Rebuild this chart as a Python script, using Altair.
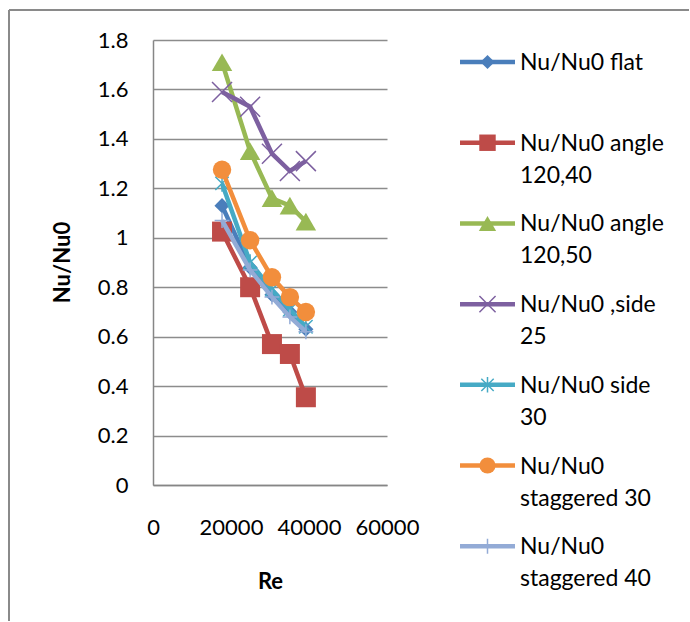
import altair as alt
import pandas as pd

# ---- data ----
re_vals = [17700, 24900, 30500, 35100, 39200]
series_names = ["Nu/Nu0 flat", "Nu/Nu0 angle 120,40", "Nu/Nu0 angle 120,50",
                "Nu/Nu0 ,side 25", "Nu/Nu0 side 30", "Nu/Nu0 staggered 30",
                "Nu/Nu0 staggered 40"]
legend_labels = ["Nu/Nu0 flat", "Nu/Nu0 angle\n120,40", "Nu/Nu0 angle\n120,50",
                 "Nu/Nu0 ,side\n25", "Nu/Nu0 side\n30", "Nu/Nu0\nstaggered 30",
                 "Nu/Nu0\nstaggered 40"]
flat = [1.13, 0.88, 0.77, 0.70, 0.63]
angle_120_40 = [1.025, 0.80, 0.57, 0.53, 0.355]
angle_120_50 = [1.71, 1.35, 1.16, 1.13, 1.065]
side_25 = [1.59, 1.53, 1.34, 1.27, 1.31]
side_30 = [1.22, 0.90, 0.79, 0.71, 0.64]
staggered_30 = [1.275, 0.99, 0.84, 0.76, 0.70]
staggered_40 = [1.07, 0.87, 0.76, 0.68, 0.62]
x_ticks = [0, 20000, 40000, 60000]
y_ticks = [0, 0.2, 0.4, 0.6, 0.8, 1, 1.2, 1.4, 1.6, 1.8]

series_values = [flat, angle_120_40, angle_120_50, side_25, side_30,
                 staggered_30, staggered_40]

# ---- styles ----
colors = ["#4A7EBB", "#BE4B48", "#98B954", "#7D60A0", "#46AAC5", "#F28E3C", "#93ABD6"]
X_PATH = "M-1,-1L1,1M-1,1L1,-1"
AST_PATH = "M-0.8,-0.8L0.8,0.8M-0.8,0.8L0.8,-0.8M0,-1L0,1"
PLUS_PATH = "M0,-1L0,1M-1,0L1,0"
markers = [  # shape, filled, size in plot, size in legend
    ("diamond", True, 230, 200),
    ("square", True, 400, 270),
    ("triangle-up", True, 420, 300),
    (X_PATH, False, 400, 260),
    (AST_PATH, False, 280, 240),
    ("circle", True, 340, 260),
    (PLUS_PATH, False, 220, 220),
]
FONT = "Lato"
FS = 22

rows = []
for name, vals in zip(series_names, series_values):
    for r, v in zip(re_vals, vals):
        rows.append({"series": name, "Re": r, "value": v})
df = pd.DataFrame(rows)

x_enc = alt.X(
    "Re:Q",
    scale=alt.Scale(domain=[0, 60000], nice=False),
    axis=alt.Axis(
        values=x_ticks, format="d", grid=False, ticks=False, tickSize=0,
        domainColor="#868686", domainWidth=1.5,
        labelFont=FONT, labelFontSize=FS, labelColor="#000000",
        labelPadding=32, labelOverlap=False, labelFlush=False,
        title="Re", titleFont=FONT, titleFontSize=FS, titleFontWeight="bold",
        titleColor="#000000", titleBaseline="alphabetic", titleY=103,
    ),
)
y_enc = alt.Y(
    "value:Q",
    scale=alt.Scale(domain=[0, 1.8], nice=False, zero=True),
    axis=alt.Axis(
        values=y_ticks, format="~g", grid=True, gridColor="#8C8C8C", gridWidth=1.3,
        ticks=False, tickSize=0, domainColor="#868686", domainWidth=1.5,
        labelFont=FONT, labelFontSize=FS, labelColor="#000000", labelPadding=25,
        labelOverlap=False,
        title="Nu/Nu0", titleFont=FONT, titleFontSize=FS, titleFontWeight="bold",
        titleColor="#000000", titleAngle=270, titleBaseline="alphabetic",
        titleAlign="center", titleX=-84, titleY=222,
    ),
)

base = alt.Chart(df)
layers = []
for i, name in enumerate(series_names):
    shape, filled, size, _ = markers[i]
    sub = base.transform_filter(alt.datum.series == name)
    layers.append(
        sub.mark_line(color=colors[i], strokeWidth=4.5).encode(x=x_enc, y=y_enc)
    )
    if filled:
        pm = sub.mark_point(shape=shape, filled=True, size=size, color=colors[i],
                            opacity=1, strokeWidth=1)
    else:
        pm = sub.mark_point(shape=shape, filled=False, size=size, color=colors[i],
                            opacity=1, strokeWidth=1.5)
    layers.append(pm.encode(x=x_enc, y=y_enc))

frame_src = alt.Chart(alt.Data(values=[{"f": 1}]))
frame_left = frame_src.mark_rule(color="#8A8A8A", strokeWidth=2).encode(
    x=alt.value(-144), y=alt.value(-30), y2=alt.value(581))
frame_top = frame_src.mark_rule(color="#8A8A8A", strokeWidth=2).encode(
    x=alt.value(-144), x2=alt.value(536), y=alt.value(-30))

plot = alt.layer(*layers, frame_left, frame_top).properties(
    width=234, height=445, view=alt.ViewBackground(stroke=None))

# ---- legend drawn as its own small chart ----
leg_df = pd.DataFrame({"idx": list(range(len(series_names))),
                       "series": series_names, "label": legend_labels})
leg_y = alt.Y("idx:Q", scale=alt.Scale(domain=[-0.273, 6.418], reverse=True), axis=None)
leg_base = alt.Chart(leg_df)
leg_layers = []
for i, name in enumerate(series_names):
    shape, filled, _, lsize = markers[i]
    sub = leg_base.transform_filter(alt.datum.series == name)
    leg_layers.append(sub.mark_rule(color=colors[i], strokeWidth=4.5).encode(
        x=alt.value(5), x2=alt.value(60), y=leg_y))
    leg_layers.append(sub.mark_point(shape=shape, filled=filled, size=lsize,
                                     color=colors[i], opacity=1,
                                     strokeWidth=1 if filled else 1.5).encode(
        x=alt.value(32.5), y=leg_y))
leg_layers.append(leg_base.mark_text(align="left", baseline="alphabetic", dy=8,
                                     lineBreak="\n", lineHeight=32, fontSize=23,
                                     font=FONT, color="#000000").encode(
    x=alt.value(65), y=leg_y, text="label:N"))
legend = alt.layer(*leg_layers).properties(
    width=230, height=540, view=alt.ViewBackground(stroke=None))

chart = alt.hconcat(plot, legend, spacing=68, bounds="flush").properties(
    padding={"left": 8, "top": 9, "right": 0, "bottom": 0}
).configure_view(stroke=None, strokeWidth=0).configure(background="#FFFFFF")

chart.save("out.html", embed_options={"renderer": "svg", "actions": False})
